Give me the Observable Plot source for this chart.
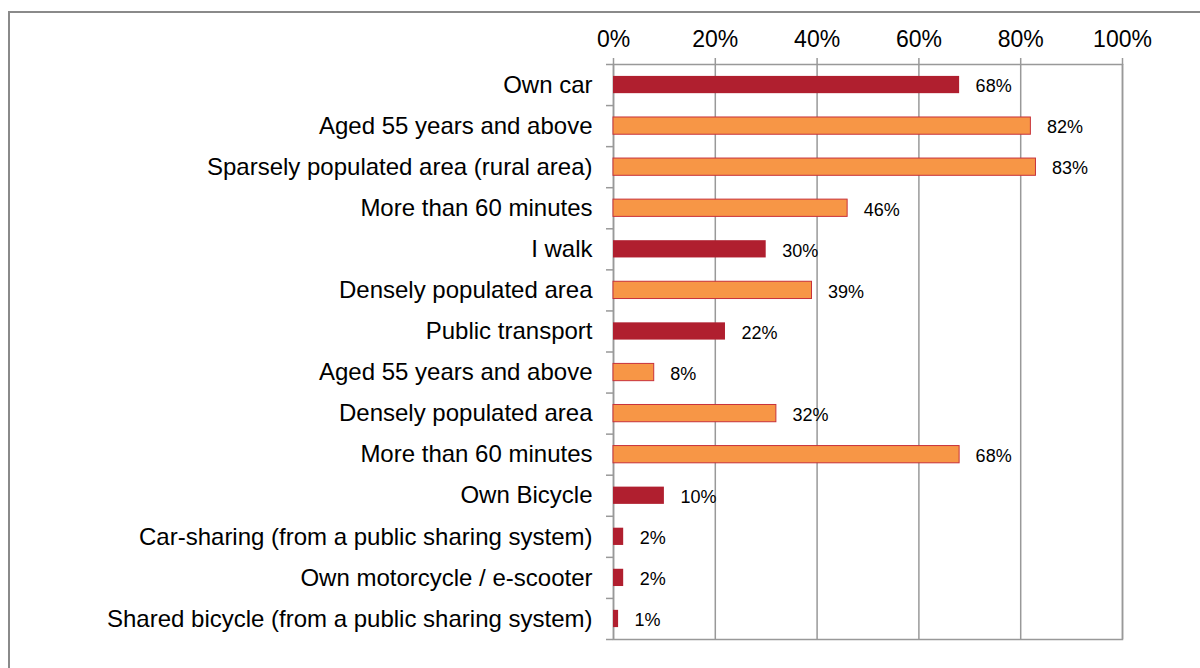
<!DOCTYPE html>
<html>
<head>
<meta charset="utf-8">
<script src="https://cdn.jsdelivr.net/npm/d3@7"></script>
<script src="https://cdn.jsdelivr.net/npm/@observablehq/plot@0.6"></script>
<style>
  html, body { margin: 0; padding: 0; background: #fff; overflow: hidden; }
  #wrap { position: relative; width: 1200px; height: 668px; }
  #border { position: absolute; left: 8px; top: 11px; width: 1300px; height: 800px;
            border-left: 2.5px solid #8a8a8a; border-top: 2.5px solid #8a8a8a; pointer-events: none; }
  #chart { position: absolute; left: 0; top: 0; }
</style>
</head>
<body>
<div id="wrap"><div id="chart"></div><div id="border"></div></div>
<script>
const categories = [
  "Own car",
  "Aged 55 years and above",
  "Sparsely populated area (rural area)",
  "More than 60 minutes",
  "I walk",
  "Densely populated area",
  "Public transport",
  "Aged 55 years and above",
  "Densely populated area",
  "More than 60 minutes",
  "Own Bicycle",
  "Car-sharing (from a public sharing system)",
  "Own motorcycle / e-scooter",
  "Shared bicycle (from a public sharing system)"
];
const values = [68, 82, 83, 46, 30, 39, 22, 8, 32, 68, 10, 2, 2, 1];
const kinds = ["mode", "profile", "profile", "profile", "mode", "profile", "mode",
               "profile", "profile", "profile", "mode", "mode", "mode", "mode"];
const xTicks = [0, 20, 40, 60, 80, 100];

const data = categories.map((c, i) => ({key: String(i), label: c, value: values[i], kind: kinds[i]}));
const keys = data.map(d => d.key);

const W = 1200, H = 668, mT = 64, mB = 29, mL = 613, mR = 78;
const step = (H - mT - mB) / keys.length;
const font = "'Liberation Sans', Arial, Helvetica, sans-serif";
const gridColor = "#999";

const chart = Plot.plot({
  width: W, height: H,
  marginLeft: mL, marginRight: mR, marginTop: mT, marginBottom: mB,
  style: {fontFamily: font, background: "transparent", color: "#000"},
  x: {domain: [0, 100], axis: null, label: null},
  y: {domain: keys, paddingInner: 0.58, paddingOuter: 0.29, round: false, axis: null, label: null},
  color: {domain: ["mode", "profile"], range: ["#b01f2f", "#f79646"]},
  marks: [
    Plot.ruleX(xTicks, {x: d => d, stroke: gridColor, strokeWidth: 1.5}),
    Plot.frame({stroke: gridColor, strokeWidth: 1.5}),
    Plot.ruleY(keys, {y: d => d, x1: 0, x2: 0, insetLeft: -7, dy: -step / 2, stroke: gridColor, strokeWidth: 1.5}),
    Plot.ruleY([keys[keys.length - 1]], {y: d => d, x1: 0, x2: 0, insetLeft: -7, dy: step / 2, stroke: gridColor, strokeWidth: 1.5}),
    Plot.axisX(xTicks, {anchor: "top", label: null, tickSize: 7, tickPadding: 11, fontSize: 23, stroke: gridColor, strokeWidth: 1.5, fill: "#000", tickFormat: d => d + "%"}),
    Plot.axisY(keys, {anchor: "left", label: null, tickSize: 0, tickPadding: 21, fontSize: 24, fill: "#000", tickFormat: k => categories[+k]}),
    Plot.barX(data, {x: "value", y: "key", fill: "kind",
      stroke: d => d.kind === "profile" ? "#c8323a" : "none", strokeWidth: 1}),
    Plot.text(data, {x: "value", y: "key", text: d => d.value + "%", dx: 16, dy: 1.5, textAnchor: "start", fontSize: 18, fill: "#000"})
  ]
});
document.getElementById("chart").appendChild(chart);
</script>
</body>
</html>
